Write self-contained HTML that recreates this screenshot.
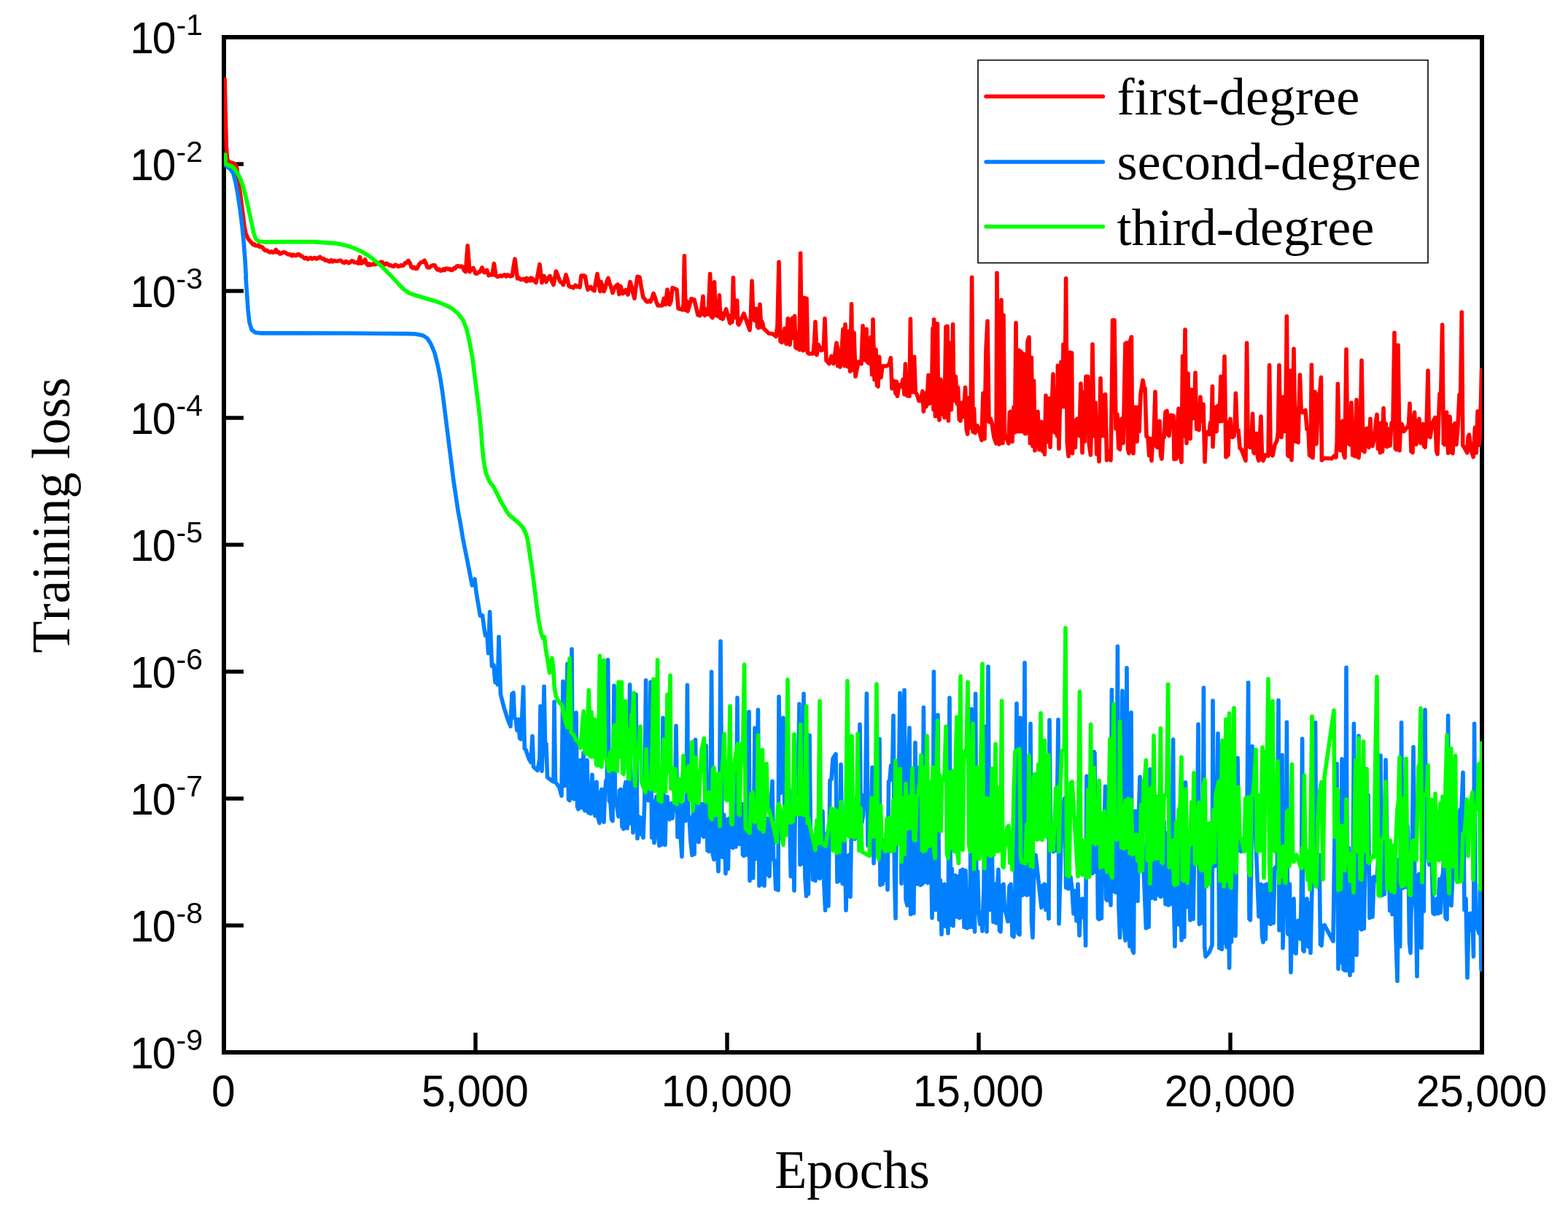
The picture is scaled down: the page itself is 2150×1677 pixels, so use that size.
<!DOCTYPE html>
<html lang="en"><head><meta charset="utf-8"><title>Training loss</title>
<style>
html,body{margin:0;padding:0;background:#fff;}
body{width:2150px;height:1677px;overflow:hidden;}
svg{display:block;}
.tk{font-family:"Liberation Sans",sans-serif;font-size:62px;fill:#000;}
.sup{font-family:"Liberation Sans",sans-serif;font-size:41px;fill:#000;}
text{font-kerning:none;font-variant-ligatures:none;}
.ax{font-family:"Liberation Serif",serif;font-size:72px;fill:#000;}
.lg{font-family:"Liberation Serif",serif;font-size:72.2px;fill:#000;}
.crv{fill:none;stroke-linejoin:round;stroke-linecap:round;}
</style></head><body>
<svg width="2150" height="1677" viewBox="0 0 2150 1677">
<rect x="0" y="0" width="2150" height="1677" fill="#fff"/>
<rect x="307.0" y="51.0" width="1725.0" height="1392.0" fill="none" stroke="#000" stroke-width="6"/>
<line x1="652.0" y1="1443.0" x2="652.0" y2="1416.0" stroke="#000" stroke-width="5.4"/>
<line x1="997.0" y1="1443.0" x2="997.0" y2="1416.0" stroke="#000" stroke-width="5.4"/>
<line x1="1342.0" y1="1443.0" x2="1342.0" y2="1416.0" stroke="#000" stroke-width="5.4"/>
<line x1="1687.0" y1="1443.0" x2="1687.0" y2="1416.0" stroke="#000" stroke-width="5.4"/>
<line x1="307.0" y1="225.0" x2="334.0" y2="225.0" stroke="#000" stroke-width="5.4"/>
<line x1="307.0" y1="399.0" x2="334.0" y2="399.0" stroke="#000" stroke-width="5.4"/>
<line x1="307.0" y1="573.0" x2="334.0" y2="573.0" stroke="#000" stroke-width="5.4"/>
<line x1="307.0" y1="747.0" x2="334.0" y2="747.0" stroke="#000" stroke-width="5.4"/>
<line x1="307.0" y1="921.0" x2="334.0" y2="921.0" stroke="#000" stroke-width="5.4"/>
<line x1="307.0" y1="1095.0" x2="334.0" y2="1095.0" stroke="#000" stroke-width="5.4"/>
<line x1="307.0" y1="1269.0" x2="334.0" y2="1269.0" stroke="#000" stroke-width="5.4"/>
<defs><clipPath id="cp"><rect x="307.0" y="51.0" width="1725.0" height="1392.0"/></clipPath></defs>
<g clip-path="url(#cp)">
<g class="crv" stroke="#ff0000" stroke-width="5.6">
<path id="pr" d="M308.2,109.0 L308.8,140.0 L309.4,166.0 L310.4,202.0 L311.6,219.0 L315.0,222.4 L320.0,223.6 L323.6,226.4 L325.0,232.0 L327.0,250.0 L330.0,270.0 L333.0,294.0 L335.0,310.0 L337.0,320.0 L340.0,327.0 L345.0,333.0 L346.8,335.3 L348.5,334.5 L350.2,336.8 L352.0,337.0 L354.0,336.2 L356.0,338.5 L358.0,338.0 L360.0,339.3 L362.0,342.0 L364.0,343.6 L366.0,343.2 L368.0,345.0 L370.0,346.0 L372.0,344.9 L374.0,346.2 L376.0,345.7 L378.4,342.5 L380.0,346.0 L382.0,345.5 L384.0,348.1 L386.0,347.4 L388.5,345.7 L391.0,346.2 L393.5,348.1 L396.0,349.0 L398.0,348.8 L400.0,350.8 L402.0,349.2 L404.0,350.4 L406.0,350.5 L408.0,348.9 L410.0,348.9 L412.0,350.8 L414.0,351.2 L416.0,353.0 L418.0,354.4 L420.0,353.3 L422.0,355.4 L424.0,354.7 L426.0,353.4 L428.0,354.9 L430.0,354.0 L432.0,353.5 L434.0,355.0 L436.0,354.0 L439.0,352.3 L442.0,355.0 L444.0,354.9 L446.0,357.0 L448.0,356.7 L450.0,358.0 L452.0,358.8 L454.0,356.8 L456.0,358.8 L458.0,357.3 L460.0,358.0 L462.5,358.2 L465.0,357.3 L467.5,357.3 L470.0,359.7 L472.0,360.4 L474.0,358.4 L476.0,359.3 L478.0,360.7 L480.0,359.7 L482.0,357.9 L484.0,358.0 L486.0,360.0 L488.0,360.0 L489.8,359.4 L491.6,361.1 L493.4,352.4 L495.2,361.1 L498.0,360.0 L500.6,355.8 L503.0,362.4 L504.8,363.6 L506.5,361.8 L508.2,363.5 L510.0,362.8 L512.0,361.9 L514.0,362.8 L516.0,362.0 L518.0,360.4 L520.0,361.9 L522.0,359.3 L524.0,359.2 L526.0,361.8 L528.0,362.7 L530.0,361.2 L532.0,362.3 L534.0,364.0 L536.0,363.7 L538.0,365.1 L540.0,365.2 L542.0,363.1 L544.0,363.9 L546.0,365.5 L548.0,365.1 L550.0,363.5 L552.0,364.4 L554.0,363.0 L556.0,360.2 L558.0,360.2 L560.0,357.4 L562.0,360.5 L564.0,366.0 L566.0,367.7 L568.0,366.4 L570.0,368.5 L572.0,368.1 L574.5,362.8 L577.0,360.0 L579.5,359.4 L582.0,357.2 L584.0,361.1 L586.0,366.4 L588.5,366.9 L591.0,365.0 L593.5,363.7 L596.0,363.6 L598.0,367.5 L600.0,370.0 L602.0,369.0 L604.0,371.3 L606.0,370.7 L607.8,369.0 L609.5,370.6 L611.2,368.3 L613.0,368.2 L614.8,369.3 L616.5,368.5 L618.2,370.5 L620.0,370.5 L622.0,367.9 L624.0,368.4 L626.0,365.1 L628.0,364.6 L630.5,365.7 L633.0,365.0 L634.8,366.7 L636.6,371.1 L638.4,372.6 L641.2,336.8 L644.0,372.6 L646.5,368.8 L649.0,367.4 L652.0,375.1 L654.0,375.2 L656.0,373.2 L658.0,373.0 L661.0,366.8 L664.0,373.6 L665.8,372.5 L667.6,370.4 L670.0,377.7 L672.5,376.4 L675.0,377.0 L677.4,361.4 L680.0,378.0 L682.0,379.4 L684.0,379.0 L686.0,377.9 L688.0,378.8 L690.0,377.6 L692.0,376.8 L694.0,379.0 L696.0,376.8 L698.0,378.0 L700.2,378.8 L702.4,378.0 L704.2,365.4 L706.0,355.2 L707.8,369.1 L709.6,382.0 L711.7,381.1 L713.9,383.4 L716.0,383.1 L718.0,382.4 L720.0,383.8 L722.0,381.4 L724.0,382.4 L726.0,382.7 L728.0,381.1 L730.0,381.8 L720.0,384.4 L722.0,385.7 L724.0,383.7 L726.0,384.8 L728.0,384.7 L730.0,383.6 L732.5,384.8 L735.0,387.5 L737.5,375.8 L740.0,362.4 L743.0,387.6 L746.0,378.4 L749.0,386.6 L751.5,381.3 L754.0,378.4 L756.5,385.5 L759.0,390.6 L762.4,372.0 L764.7,377.1 L767.0,384.0 L768.8,386.9 L770.6,387.9 L772.4,390.6 L774.2,384.2 L776.0,376.8 L778.0,383.3 L780.0,392.0 L782.0,393.5 L784.0,393.4 L786.0,394.8 L789.0,391.1 L791.0,393.2 L793.0,392.4 L795.0,393.9 L797.0,378.0 L798.8,378.9 L800.6,377.6 L802.4,379.0 L804.2,389.3 L806.0,397.2 L808.0,394.7 L810.0,393.4 L812.5,397.1 L815.0,398.6 L817.0,386.0 L819.0,375.6 L821.0,388.5 L823.0,399.6 L824.0,386.4 L826.0,392.3 L828.0,399.6 L830.0,394.6 L832.0,386.4 L834.0,381.4 L836.0,388.7 L838.0,394.0 L840.0,401.6 L842.4,395.0 L844.7,392.0 L847.0,390.1 L849.0,403.6 L851.0,392.4 L854.0,402.6 L856.0,401.0 L858.0,397.4 L861.0,404.0 L864.0,386.4 L866.0,393.0 L868.0,402.2 L870.0,409.2 L872.0,393.0 L874.0,379.3 L877.0,380.0 L879.5,395.1 L882.0,408.0 L884.0,409.8 L886.0,413.0 L888.0,413.9 L890.0,412.4 L892.0,413.7 L894.0,409.0 L896.0,402.4 L898.0,407.2 L900.0,414.2 L902.0,419.0 L908.0,419.0 L910.3,409.3 L912.7,417.5 L915.0,397.0 L918.0,417.6 L920.0,412.8 L922.0,394.6 L928.0,397.0 L930.0,423.0 L936.0,424.8 L937.2,416.5 L938.4,350.8 L939.9,425.1 L941.5,412.9 L943.0,426.6 L948.0,409.6 L952.0,411.0 L957.0,432.0 L960.0,432.7 L962.0,423.0 L964.0,406.4 L965.2,431.1 L966.4,432.6 L968.8,424.1 L971.2,431.1 L973.6,375.6 L975.3,434.1 L977.0,435.6 L978.3,424.5 L979.6,386.8 L981.1,432.1 L982.5,425.7 L984.0,433.6 L985.2,429.6 L986.4,404.8 L987.9,436.1 L989.5,429.3 L991.0,437.6 L995.6,424.0 L1001.0,443.2 L1002.5,432.6 L1003.9,441.7 L1005.4,380.8 L1006.9,434.1 L1008.4,435.6 L1010.6,412.0 L1011.8,443.7 L1013.0,445.2 L1020.0,430.0 L1028.0,452.6 L1029.5,432.2 L1031.0,385.4 L1033.0,438.1 L1035.0,439.6 L1037.0,423.4 L1038.5,448.1 L1040.0,449.6 L1042.0,417.4 L1043.7,448.5 L1045.3,441.6 L1047.0,450.0 L1054.0,457.0 L1060.0,458.0 L1064.0,461.5 L1066.0,446.8 L1068.0,359.4 L1070.0,468.1 L1072.0,469.6 L1076.0,450.4 L1078.0,471.6 L1079.2,454.5 L1080.4,436.8 L1081.7,471.1 L1083.0,472.6 L1084.5,457.5 L1086.0,436.4 L1088.0,463.6 L1089.6,433.4 L1090.8,476.1 L1092.0,477.6 L1094.0,456.4 L1096.0,479.6 L1097.6,347.4 L1099.3,479.1 L1101.0,480.6 L1103.0,408.4 L1104.4,479.6 L1106.0,409.4 L1107.5,483.5 L1109.0,485.0 L1115.0,485.0 L1116.5,469.4 L1118.0,441.4 L1120.0,486.6 L1122.0,472.4 L1126.0,480.6 L1127.7,479.1 L1129.3,479.1 L1131.0,436.8 L1133.0,494.5 L1135.0,496.0 L1137.0,498.8 L1140.0,488.4 L1143.0,497.6 L1145.0,484.6 L1147.0,470.4 L1150.0,486.0 L1140.0,494.0 L1143.0,498.6 L1145.0,487.6 L1147.0,470.4 L1148.7,501.7 L1150.3,486.8 L1152.0,503.2 L1154.0,483.6 L1156.0,451.4 L1158.0,501.6 L1159.0,444.8 L1160.5,501.1 L1162.0,502.6 L1163.6,454.4 L1165.6,509.2 L1167.6,416.8 L1168.8,506.1 L1170.0,507.6 L1171.0,456.4 L1173.0,516.2 L1177.0,496.1 L1181.0,498.9 L1183.0,446.8 L1184.3,492.1 L1185.6,493.6 L1186.8,492.1 L1188.0,451.4 L1189.2,496.1 L1190.4,497.6 L1191.6,476.4 L1193.0,498.6 L1194.0,462.4 L1195.6,513.6 L1197.0,438.0 L1199.0,520.6 L1201.0,479.4 L1202.5,528.5 L1204.0,530.0 L1205.6,489.4 L1206.8,516.1 L1208.0,517.6 L1210.0,502.0 L1215.0,502.0 L1219.0,500.0 L1221.4,490.8 L1223.0,532.6 L1226.0,522.4 L1228.0,539.6 L1229.4,523.4 L1230.4,543.2 L1233.0,527.8 L1236.0,530.2 L1238.0,520.4 L1240.0,540.6 L1241.4,499.0 L1242.7,541.1 L1244.0,542.6 L1246.0,522.4 L1247.0,543.2 L1248.4,437.4 L1249.7,536.1 L1251.0,537.6 L1252.3,530.1 L1253.6,489.4 L1255.3,538.5 L1257.0,540.0 L1260.0,549.6 L1262.4,549.6 L1265.0,536.4 L1266.4,564.2 L1268.4,539.4 L1270.0,557.6 L1271.5,540.4 L1273.0,514.4 L1274.4,553.6 L1276.0,526.4 L1277.6,539.6 L1279.0,450.4 L1280.0,561.6 L1280.6,438.0 L1282.4,570.6 L1283.6,444.0 L1285.4,444.0 L1286.7,568.3 L1288.0,576.0 L1290.0,520.4 L1291.6,567.6 L1293.0,555.4 L1295.0,572.6 L1297.0,448.0 L1299.0,447.3 L1300.4,577.0 L1302.4,470.4 L1304.4,561.6 L1306.6,444.8 L1307.8,548.1 L1309.0,549.6 L1310.4,516.4 L1312.4,553.6 L1313.6,531.4 L1315.3,575.5 L1317.0,577.0 L1319.0,552.4 L1321.0,571.6 L1322.3,550.9 L1323.6,531.4 L1325.1,588.2 L1326.6,595.2 L1327.8,549.3 L1329.0,545.4 L1331.0,586.6 L1332.6,380.4 L1334.1,592.1 L1335.5,560.0 L1337.0,593.6 L1340.0,583.8 L1342.0,588.0 L1346.0,603.6 L1348.0,539.4 L1350.0,601.6 L1352.0,480.0 L1354.0,440.4 L1356.0,578.5 L1358.0,574.0 L1360.0,580.0 L1363.0,600.0 L1366.0,608.0 L1367.0,374.4 L1368.5,601.9 L1370.0,609.2 L1371.5,587.5 L1373.0,411.4 L1375.0,607.6 L1376.0,432.4 L1377.5,596.5 L1379.0,598.0 L1383.0,608.0 L1384.3,565.9 L1385.6,564.4 L1386.8,604.1 L1388.0,605.6 L1390.0,558.4 L1391.6,592.6 L1393.0,442.8 L1394.3,590.1 L1395.6,591.6 L1397.0,480.4 L1398.4,591.6 L1400.0,482.4 L1401.6,591.6 L1403.6,485.4 L1405.6,594.7 L1407.6,594.0 L1409.0,468.0 L1411.0,462.4 L1412.4,607.6 L1414.4,490.4 L1416.0,611.6 L1417.6,522.4 L1419.0,617.6 L1421.0,565.9 L1423.0,564.4 L1425.0,616.6 L1426.5,579.9 L1428.0,578.4 L1429.5,618.6 L1430.9,579.9 L1432.4,623.0 L1434.0,542.4 L1435.2,604.1 L1436.4,605.6 L1438.4,546.4 L1440.0,613.2 L1442.0,564.0 L1444.0,513.0 L1445.5,592.1 L1447.0,593.6 L1448.0,534.4 L1449.6,597.6 L1450.4,501.4 L1452.0,615.2 L1453.5,552.8 L1455.0,496.4 L1457.0,557.6 L1458.0,472.4 L1460.0,557.6 L1461.6,381.8 L1463.3,606.9 L1465.0,625.6 L1467.0,483.3 L1469.6,484.0 L1470.4,621.6 L1471.7,585.9 L1473.0,584.4 L1474.4,613.6 L1475.7,575.9 L1477.0,574.4 L1478.5,596.1 L1480.0,597.6 L1482.0,526.0 L1484.0,620.6 L1485.6,538.4 L1487.0,605.6 L1489.0,516.4 L1491.6,516.4 L1493.0,606.0 L1495.4,624.0 L1496.7,573.6 L1498.0,472.0 L1500.0,597.6 L1502.0,552.4 L1503.7,622.6 L1505.3,576.2 L1507.0,632.6 L1509.0,518.8 L1511.0,597.6 L1512.4,542.4 L1513.6,597.6 L1515.6,540.8 L1517.6,631.0 L1520.0,618.4 L1523.0,631.2 L1524.3,550.2 L1525.6,439.0 L1528.0,439.0 L1530.0,587.6 L1532.0,568.4 L1533.8,614.7 L1535.6,616.2 L1536.8,575.9 L1538.0,574.4 L1540.0,607.6 L1541.0,571.0 L1543.0,471.0 L1545.0,470.0 L1546.5,615.5 L1548.0,621.6 L1549.0,470.0 L1551.4,462.0 L1552.7,617.4 L1554.0,621.6 L1556.0,558.4 L1557.5,604.1 L1559.0,605.6 L1560.0,558.4 L1562.0,591.6 L1564.0,540.0 L1567.0,521.4 L1570.0,537.6 L1570.0,532.4 L1572.0,598.5 L1574.0,600.0 L1575.7,624.5 L1577.3,601.5 L1579.0,631.6 L1580.5,601.5 L1582.0,600.0 L1584.0,537.4 L1585.5,612.1 L1587.0,613.6 L1588.5,578.9 L1590.0,577.4 L1591.5,624.2 L1593.0,629.2 L1594.5,601.5 L1596.0,600.0 L1598.0,564.9 L1600.0,563.4 L1601.5,596.1 L1603.0,597.6 L1605.0,569.3 L1609.0,570.0 L1610.0,629.7 L1613.0,629.0 L1614.5,581.0 L1616.0,560.4 L1618.0,623.5 L1620.0,633.6 L1621.6,488.4 L1623.0,597.6 L1625.0,452.0 L1627.0,607.6 L1629.0,512.4 L1630.5,600.1 L1632.0,601.6 L1634.0,534.4 L1636.0,573.6 L1637.5,572.1 L1639.0,511.0 L1640.7,588.1 L1642.3,562.7 L1644.0,589.6 L1646.0,544.4 L1648.0,577.6 L1650.0,554.4 L1652.0,633.2 L1653.5,593.9 L1655.0,592.4 L1658.0,595.6 L1659.5,579.5 L1660.9,594.1 L1662.4,529.8 L1663.0,612.6 L1664.5,574.8 L1666.0,558.4 L1668.0,591.6 L1670.0,556.4 L1672.0,577.6 L1674.0,516.4 L1675.0,577.6 L1677.0,576.1 L1679.0,488.8 L1681.0,626.8 L1684.0,624.0 L1685.5,579.5 L1687.0,574.4 L1688.5,597.9 L1690.0,599.4 L1692.0,598.0 L1693.2,584.3 L1694.4,539.4 L1696.2,588.5 L1698.0,590.0 L1700.0,614.5 L1702.0,616.0 L1708.0,631.6 L1709.6,470.4 L1711.2,612.1 L1712.8,597.6 L1714.4,613.6 L1716.0,601.2 L1717.6,567.4 L1718.8,620.1 L1720.0,621.6 L1721.5,600.2 L1723.0,594.4 L1724.5,627.2 L1726.0,631.6 L1727.5,599.0 L1729.0,571.0 L1730.5,627.9 L1732.0,631.6 L1735.0,623.9 L1739.0,625.1 L1740.6,500.8 L1742.1,618.5 L1743.6,620.0 L1745.0,624.9 L1748.0,610.0 L1751.0,604.0 L1752.5,592.3 L1754.0,500.8 L1755.5,598.1 L1757.0,599.6 L1759.0,544.4 L1761.0,591.6 L1762.7,584.9 L1764.4,433.8 L1765.7,624.1 L1767.0,625.6 L1769.0,508.4 L1771.0,630.6 L1772.5,573.8 L1774.0,478.4 L1776.0,605.1 L1778.0,561.1 L1780.0,606.6 L1781.2,555.0 L1782.4,514.0 L1784.2,564.1 L1786.0,565.6 L1790.0,562.4 L1792.0,588.5 L1794.0,590.0 L1795.5,624.1 L1797.0,625.6 L1798.4,500.4 L1800.0,627.6 L1801.5,588.1 L1803.0,537.4 L1805.0,608.6 L1806.5,574.5 L1808.0,540.0 L1809.7,538.5 L1811.4,517.4 L1812.4,631.1 L1816.0,628.3 L1826.0,628.7 L1830.0,624.8 L1832.0,627.2 L1833.2,605.9 L1834.4,526.4 L1836.2,616.1 L1838.0,617.6 L1839.5,581.3 L1841.0,577.4 L1842.5,623.6 L1844.0,627.6 L1846.0,479.0 L1847.7,608.1 L1849.3,608.1 L1851.0,609.6 L1853.0,552.4 L1854.7,624.1 L1856.3,593.9 L1858.0,625.6 L1860.0,548.4 L1861.5,626.0 L1863.0,627.6 L1865.0,602.1 L1867.0,494.4 L1869.0,618.1 L1871.0,619.6 L1872.5,588.9 L1874.0,587.4 L1875.5,612.1 L1877.0,613.6 L1879.0,574.4 L1880.5,610.1 L1882.0,611.6 L1885.0,598.0 L1886.5,579.2 L1888.0,568.4 L1889.5,615.5 L1890.9,581.7 L1892.4,620.6 L1893.9,579.7 L1895.5,619.1 L1897.0,559.8 L1898.7,611.1 L1900.3,580.7 L1902.0,612.6 L1904.0,588.2 L1906.0,611.1 L1908.0,580.0 L1910.0,578.5 L1912.0,456.4 L1913.2,615.1 L1914.4,616.6 L1915.7,586.7 L1917.0,473.4 L1919.0,617.6 L1920.5,582.9 L1922.0,581.4 L1925.0,591.6 L1930.0,585.0 L1931.5,583.5 L1933.0,553.4 L1935.0,619.1 L1937.0,620.6 L1938.3,576.8 L1939.6,565.4 L1940.8,607.7 L1942.0,609.2 L1944.0,578.9 L1946.0,574.4 L1948.0,607.6 L1949.5,585.3 L1951.0,581.4 L1952.5,611.7 L1954.0,613.2 L1956.0,586.1 L1958.0,508.4 L1959.5,598.1 L1961.0,599.6 L1964.0,580.0 L1968.0,572.4 L1969.5,617.6 L1971.0,622.6 L1972.5,579.6 L1974.0,540.0 L1975.8,538.5 L1977.6,445.4 L1979.3,608.1 L1981.0,609.6 L1982.3,576.9 L1983.6,565.4 L1985.6,621.2 L1986.8,584.7 L1988.0,571.4 L1990.0,620.1 L1992.0,621.6 L1993.5,583.2 L1995.0,580.4 L1997.0,609.6 L1999.0,584.5 L2001.1,541.0 L2002.7,539.5 L2004.3,428.0 L2005.8,611.1 L2007.3,612.6 L2011.8,620.9 L2013.2,598.2 L2014.5,596.2 L2016.3,614.3 L2020.2,626.6 L2022.5,586.3 L2024.3,620.9 L2026.1,564.0 L2027.9,610.2 L2029.7,592.1 L2031.5,507.0"/>
</g>
<g class="crv" stroke="#0080ff" stroke-width="5.6">
<path id="pb" d="M308.4,226.0 L312.0,229.0 L316.0,232.0 L320.0,238.0 L323.0,250.0 L326.0,266.0 L329.0,286.0 L332.0,310.0 L334.0,330.0 L336.0,356.0 L337.4,380.0 L337.0,380.0 L338.4,400.0 L340.0,424.0 L342.0,442.0 L345.0,452.0 L350.0,456.0 L358.0,456.9 L400.0,456.9 L480.0,457.0 L560.0,457.6 L570.0,458.0 L580.0,460.0 L586.0,464.0 L591.0,472.0 L596.0,484.0 L600.0,500.0 L604.0,520.0 L607.0,540.0 L610.0,564.0 L613.0,588.0 L616.0,612.0 L619.0,636.0 L622.0,660.0 L625.0,680.0 L628.0,700.0 L628.0,700.0 L631.0,716.0 L635.0,740.0 L639.0,760.0 L643.0,780.0 L646.0,796.0 L647.4,802.6 L651.0,794.0 L653.0,812.0 L656.0,830.0 L658.4,844.2 L661.6,843.8 L663.6,860.0 L665.6,871.4 L668.0,870.6 L669.6,895.6 L671.6,839.0 L674.4,913.1 L677.0,911.9 L679.0,935.6 L681.0,918.4 L682.4,938.6 L684.0,873.4 L686.4,952.0 L691.0,970.0 L696.0,986.0 L700.0,996.0 L702.0,951.5 L704.0,950.0 L705.5,984.5 L707.0,986.0 L709.0,1001.6 L711.0,986.4 L712.5,1012.1 L714.0,1013.6 L715.8,981.7 L717.6,942.0 L719.3,1026.5 L721.0,1028.0 L725.0,1040.0 L728.0,1045.3 L730.0,1009.4 L731.5,1051.5 L733.0,1053.0 L737.0,1056.5 L740.0,1040.0 L741.0,968.4 L743.0,1057.2 L744.5,1020.1 L746.0,941.4 L747.5,1018.5 L749.0,1020.0 L750.5,1065.5 L752.0,1067.0 L756.0,1070.0 L759.0,1071.7 L760.0,962.4 L761.5,1072.5 L763.0,1074.0 L767.0,1080.0 L770.0,1091.2 L772.0,934.4 L773.2,1076.1 L774.4,1077.6 L776.2,1044.5 L778.0,910.4 L779.5,1096.1 L781.0,1097.6 L782.5,1066.7 L784.0,890.0 L785.5,1094.1 L787.0,1095.6 L788.5,1069.0 L790.0,977.4 L791.5,1106.1 L793.0,1109.6 L794.5,1078.2 L796.0,1042.4 L798.0,1107.6 L800.0,1032.4 L802.0,1111.6 L803.5,1075.3 L805.0,1042.4 L806.7,1114.1 L808.3,1075.1 L810.0,1115.6 L812.0,1062.4 L814.0,1108.7 L816.0,1118.6 L818.0,1072.4 L820.0,1121.3 L822.0,1128.6 L823.5,1088.0 L825.0,1082.4 L826.5,1121.5 L828.0,1127.2 L829.5,1086.4 L831.0,1070.0 L832.3,1068.5 L833.6,904.8 L835.3,1098.5 L837.0,1100.0 L838.5,1123.4 L840.0,1125.6 L842.0,940.4 L843.5,1098.5 L845.0,1100.0 L848.0,1119.6 L849.5,1083.9 L851.0,1082.4 L853.0,1133.1 L855.0,1136.6 L856.5,1080.6 L858.0,1072.4 L860.0,1135.6 L861.8,1083.7 L863.6,938.8 L865.1,1129.3 L866.5,1085.0 L868.0,1141.6 L870.0,1100.3 L872.0,952.4 L874.0,1149.6 L875.5,1121.9 L877.0,1120.4 L878.7,1143.9 L880.3,1121.9 L882.0,1148.6 L883.8,1099.4 L885.6,932.8 L887.3,1096.1 L889.0,1097.6 L890.5,1084.1 L892.0,935.4 L893.7,1148.6 L895.3,1098.5 L897.0,1155.6 L898.5,1101.9 L900.0,1092.4 L902.0,1142.5 L904.0,1159.6 L905.7,1096.4 L907.3,1158.1 L909.0,984.4 L910.5,1156.7 L912.0,1158.6 L913.5,1099.6 L915.0,1092.4 L916.5,1122.1 L918.0,1123.6 L920.0,1101.5 L922.0,1122.1 L924.0,1100.0 L925.5,1098.5 L927.0,995.4 L929.0,1147.6 L930.5,1103.9 L932.0,1102.4 L933.5,1152.6 L935.0,1174.6 L936.5,1104.7 L938.0,1102.4 L940.0,1125.6 L941.2,1104.1 L942.4,939.4 L943.7,1118.5 L945.0,1120.0 L947.0,1154.3 L949.0,1172.6 L950.5,1112.4 L952.1,1171.1 L953.6,1014.4 L955.1,1153.1 L956.5,1106.9 L958.0,1154.6 L960.0,1103.9 L962.0,1102.4 L963.5,1146.1 L965.0,1147.6 L966.5,1120.6 L968.0,1022.4 L970.0,1166.1 L972.0,1167.6 L973.8,1121.8 L975.6,921.4 L977.3,1171.6 L979.0,1178.6 L980.5,1123.9 L982.0,1122.4 L983.5,1164.7 L985.0,1194.6 L986.5,1126.5 L988.0,879.4 L990.3,1175.3 L992.7,1117.2 L995.0,1197.6 L996.7,1123.9 L998.3,1191.4 L1000.0,1122.4 L1001.7,1161.1 L1003.3,1123.9 L1005.0,1162.6 L1007.0,1123.2 L1009.0,1161.1 L1011.0,956.8 L1012.5,1156.1 L1014.0,1157.6 L1015.5,1129.4 L1017.0,1102.4 L1018.5,1172.1 L1020.0,1173.6 L1022.3,1125.4 L1024.7,1172.1 L1027.0,976.0 L1028.0,1207.6 L1030.3,1121.2 L1032.7,1203.9 L1035.0,998.4 L1037.0,1177.6 L1038.2,1091.1 L1039.4,973.4 L1041.0,1214.6 L1042.5,1143.9 L1044.0,1142.4 L1046.0,1213.1 L1048.0,1214.6 L1050.0,1123.9 L1052.0,1122.4 L1053.5,1200.1 L1055.0,1201.6 L1057.0,1104.1 L1059.0,1071.4 L1060.5,1178.5 L1062.0,1180.0 L1063.7,1219.1 L1065.3,1181.5 L1067.0,1220.6 L1068.0,955.4 L1070.0,1087.6 L1072.0,1077.3 L1074.0,984.4 L1076.0,1122.1 L1078.0,1123.6 L1080.0,1083.9 L1082.0,1082.4 L1084.3,1201.6 L1086.7,1105.7 L1089.0,1221.2 L1090.5,1091.5 L1092.0,1090.0 L1094.0,1088.5 L1096.0,965.4 L1097.0,1185.6 L1098.7,1118.1 L1100.3,1184.1 L1102.0,951.4 L1103.8,1200.8 L1105.6,1228.6 L1107.1,1097.2 L1108.5,1225.7 L1110.0,1008.4 L1111.5,1148.5 L1113.0,1150.0 L1114.7,1206.1 L1116.3,1151.5 L1118.0,1207.6 L1119.5,1133.9 L1121.0,1132.4 L1122.5,1203.1 L1124.0,1204.6 L1126.0,1113.9 L1128.0,1112.4 L1129.8,1209.5 L1131.6,1248.2 L1133.7,1143.1 L1135.9,1242.2 L1138.0,1070.0 L1140.0,1068.5 L1142.0,1040.0 L1146.0,1034.0 L1148.0,1209.2 L1149.7,1117.6 L1151.3,1207.7 L1153.0,1048.4 L1155.3,1211.8 L1157.7,1134.3 L1160.0,1248.2 L1162.0,1173.9 L1164.0,1172.4 L1166.0,1229.6 L1167.5,1133.9 L1169.0,1132.4 L1172.0,1150.6 L1174.3,1093.0 L1176.7,1149.1 L1179.0,993.4 L1180.5,1126.1 L1182.0,1127.6 L1183.5,1117.9 L1185.0,1090.0 L1186.7,1088.5 L1188.4,951.0 L1190.0,1159.6 L1192.0,1139.4 L1194.0,1158.1 L1196.0,1052.4 L1198.0,1183.6 L1199.5,1131.5 L1201.0,1130.0 L1202.7,1069.2 L1204.3,1128.5 L1206.0,1013.4 L1207.0,1213.6 L1208.7,1153.9 L1210.3,1212.1 L1212.0,1152.4 L1213.7,1206.4 L1215.3,1153.9 L1217.0,1220.0 L1218.5,1071.5 L1220.0,1070.0 L1221.7,1049.3 L1223.3,1068.5 L1225.0,981.4 L1226.5,1200.2 L1228.0,1259.2 L1229.5,1091.5 L1231.0,1090.0 L1232.5,1071.6 L1234.0,950.4 L1236.0,1211.6 L1238.0,1069.3 L1240.0,946.4 L1242.0,1233.2 L1244.0,1241.6 L1245.5,1045.7 L1247.0,998.0 L1248.6,1253.6 L1250.7,1062.8 L1252.9,1252.1 L1255.0,1018.4 L1257.3,1212.1 L1259.7,1052.8 L1262.0,1213.6 L1263.5,1118.2 L1264.9,1212.1 L1266.4,970.0 L1268.3,1209.1 L1270.1,1118.7 L1272.0,1210.6 L1274.0,1133.9 L1276.0,1132.4 L1278.0,1258.6 L1279.2,1191.5 L1280.4,921.0 L1281.7,1246.1 L1283.0,1247.6 L1284.5,1197.8 L1286.0,980.4 L1287.7,1261.0 L1289.3,1207.1 L1291.0,1281.2 L1293.0,1213.9 L1295.0,1212.4 L1296.7,1270.5 L1298.3,1213.9 L1300.0,1279.6 L1302.0,956.8 L1303.7,1268.1 L1305.3,1191.2 L1307.0,1269.6 L1308.5,1212.2 L1310.0,1200.4 L1311.9,1257.1 L1313.7,1201.9 L1315.6,1258.6 L1317.1,1193.9 L1318.5,1257.1 L1320.0,1192.4 L1322.0,1271.1 L1324.0,1193.9 L1326.0,1272.6 L1328.0,1220.2 L1330.0,1271.1 L1332.0,972.4 L1333.5,1271.2 L1335.1,1191.6 L1336.6,1277.6 L1337.6,951.4 L1339.1,1248.5 L1340.5,1194.7 L1342.0,1250.0 L1343.7,1267.3 L1345.3,1251.5 L1347.0,1276.6 L1349.0,1216.1 L1351.0,996.4 L1353.0,1277.6 L1355.0,914.0 L1357.0,1247.6 L1358.5,1206.6 L1360.0,1152.4 L1362.0,1264.1 L1364.0,1212.6 L1366.0,1265.6 L1367.5,1215.2 L1369.0,1192.4 L1370.5,1276.1 L1372.0,1277.6 L1374.0,1213.9 L1376.0,1212.4 L1377.5,1248.5 L1379.0,1250.0 L1382.0,1263.6 L1384.0,1215.3 L1386.0,1212.4 L1388.0,1283.1 L1390.0,1284.6 L1392.0,1218.6 L1394.0,964.8 L1396.0,1280.1 L1398.0,1281.6 L1399.0,984.4 L1400.5,1226.1 L1402.0,1227.6 L1403.5,1219.3 L1405.0,908.8 L1406.5,1226.1 L1408.0,1227.6 L1409.7,1210.5 L1411.3,1226.1 L1413.0,992.4 L1414.5,1263.9 L1416.0,1285.6 L1418.0,1186.0 L1420.0,1172.4 L1428.0,1244.6 L1430.0,1213.9 L1432.0,1212.4 L1434.0,1247.5 L1436.0,1213.9 L1438.0,1259.6 L1439.0,987.4 L1440.7,1166.1 L1442.3,1166.1 L1444.0,1167.6 L1446.3,1166.1 L1448.7,1166.1 L1451.0,986.8 L1452.0,1266.6 L1454.0,1194.6 L1456.0,1110.0 L1460.0,1094.4 L1461.7,1217.1 L1463.3,1187.8 L1465.0,1218.6 L1468.0,1202.4 L1470.0,1220.0 L1472.0,1252.8 L1474.0,1221.5 L1476.0,1262.6 L1478.0,1212.4 L1480.0,1282.6 L1482.0,1233.9 L1484.0,1232.4 L1485.5,1257.9 L1487.1,1233.9 L1488.6,1296.6 L1490.0,1064.4 L1491.7,1168.5 L1493.3,1160.3 L1495.0,1170.0 L1496.5,1196.1 L1498.0,1197.6 L1500.0,1030.7 L1501.0,1032.4 L1502.0,1195.6 L1504.0,1092.4 L1505.5,1259.1 L1507.0,1260.6 L1508.7,1171.1 L1510.3,1259.1 L1512.0,1150.0 L1513.8,1148.5 L1515.6,1078.4 L1516.8,1233.1 L1518.0,1234.6 L1519.5,1153.9 L1521.0,1152.4 L1523.0,1241.2 L1524.4,945.8 L1526.3,1222.1 L1528.1,1091.7 L1530.0,1223.6 L1531.2,1125.2 L1532.4,886.4 L1534.0,1244.4 L1535.6,1285.6 L1537.3,1117.6 L1539.0,947.4 L1541.0,1266.5 L1543.0,1289.6 L1545.0,915.8 L1547.0,1256.7 L1549.0,1297.6 L1551.0,977.0 L1552.7,1302.2 L1554.4,1306.6 L1555.7,1134.5 L1557.0,1112.4 L1558.5,1234.1 L1560.0,1235.6 L1561.5,1112.6 L1563.0,1065.4 L1571.4,1272.6 L1573.3,1113.5 L1575.1,1271.1 L1577.0,1054.8 L1579.3,1231.1 L1581.7,1150.7 L1584.0,1232.6 L1586.0,1140.7 L1588.0,1132.4 L1589.8,1228.1 L1591.6,1229.6 L1593.1,1146.9 L1594.5,1228.1 L1596.0,1126.4 L1598.0,1239.7 L1600.0,1142.6 L1602.0,1241.2 L1604.2,1119.9 L1606.4,1239.7 L1608.6,1014.0 L1609.8,1250.8 L1611.0,1297.6 L1612.5,1128.9 L1614.0,1127.4 L1616.0,1267.6 L1618.0,1138.5 L1620.0,1289.2 L1621.9,1148.4 L1623.7,1285.0 L1625.6,1072.8 L1626.8,1242.1 L1628.0,1243.6 L1630.0,1172.4 L1632.0,1261.6 L1634.0,1151.5 L1636.0,1260.1 L1638.0,1150.0 L1639.7,1148.5 L1641.3,1148.5 L1643.0,993.0 L1644.4,1267.2 L1646.4,1169.8 L1648.4,1265.7 L1650.4,943.0 L1651.7,1298.0 L1653.0,1311.6 L1658.0,1306.0 L1662.0,1296.0 L1663.0,960.8 L1664.5,1186.1 L1666.0,1187.6 L1668.0,1183.2 L1670.0,1005.8 L1671.8,1300.1 L1673.6,1157.1 L1675.4,1301.6 L1676.9,1203.9 L1678.5,1293.0 L1680.0,1202.4 L1681.9,1298.7 L1683.7,1203.9 L1685.6,1327.2 L1687.1,1173.9 L1688.5,1291.5 L1690.0,1172.4 L1692.0,1281.7 L1694.0,1283.2 L1695.5,1171.7 L1697.0,1039.4 L1698.7,1166.1 L1700.3,1158.4 L1702.0,1167.6 L1704.0,1154.6 L1706.0,1166.1 L1708.0,1130.0 L1709.8,1128.5 L1711.6,936.0 L1713.0,1260.1 L1714.4,1261.6 L1715.7,1188.7 L1717.0,1023.4 L1726.0,1256.6 L1727.5,1213.9 L1729.0,1212.4 L1730.5,1283.9 L1732.0,1292.0 L1733.7,1213.9 L1735.3,1287.7 L1737.0,1212.4 L1738.7,1265.7 L1740.3,1213.9 L1742.0,1267.2 L1744.0,1207.6 L1746.0,1265.7 L1748.0,1190.0 L1749.7,1188.5 L1751.3,1188.5 L1753.0,960.4 L1754.0,1275.6 L1756.0,1224.1 L1758.0,1035.4 L1759.0,1300.0 L1760.5,1231.5 L1762.0,1230.0 L1763.2,1228.5 L1764.4,990.4 L1765.7,1280.1 L1767.0,1281.6 L1768.4,1212.4 L1770.0,1333.2 L1772.0,1233.9 L1774.0,1232.4 L1775.5,1306.1 L1777.0,1307.6 L1778.5,1263.9 L1780.0,1262.4 L1781.5,1286.1 L1783.0,1287.6 L1784.3,1228.4 L1785.6,1013.0 L1786.8,1303.1 L1788.0,1304.6 L1790.0,1233.9 L1792.0,1232.4 L1793.7,1298.3 L1795.3,1238.2 L1797.0,1306.6 L1798.5,1234.6 L1800.0,1190.0 L1801.8,1188.5 L1803.6,990.8 L1804.8,1214.1 L1806.0,1215.6 L1807.5,1214.1 L1809.0,1172.4 L1810.5,1295.1 L1812.0,1296.6 L1814.0,1269.9 L1816.0,1268.4 L1828.0,1290.6 L1830.0,1150.0 L1831.5,1148.5 L1833.0,1047.4 L1835.0,1328.6 L1836.7,1151.4 L1838.3,1319.9 L1840.0,1040.8 L1842.0,1329.1 L1844.0,1330.6 L1846.0,915.4 L1847.7,1330.9 L1849.3,1162.3 L1851.0,1337.2 L1852.8,1184.4 L1854.6,1331.2 L1856.4,992.4 L1858.2,1288.3 L1860.0,1309.6 L1861.5,1150.4 L1863.0,1009.0 L1865.0,1273.1 L1867.0,1274.6 L1868.7,1171.5 L1870.3,1273.1 L1872.0,1170.0 L1874.0,1165.6 L1876.0,1090.4 L1878.0,1258.6 L1880.0,1203.9 L1882.0,1257.1 L1884.0,1202.4 L1888.0,1207.6 L1889.7,1178.6 L1891.3,1206.1 L1893.0,1036.0 L1895.0,1227.6 L1896.7,1161.3 L1898.3,1226.1 L1900.0,1042.0 L1902.0,1168.5 L1904.0,1170.0 L1905.7,1248.6 L1907.3,1179.7 L1909.0,1253.6 L1910.5,1195.5 L1912.0,1192.4 L1914.0,1285.5 L1916.0,1345.2 L1917.9,1178.6 L1919.7,1298.0 L1921.6,990.8 L1922.8,1216.1 L1924.0,1217.6 L1926.0,1175.9 L1928.0,1216.1 L1930.0,1132.4 L1931.0,1170.0 L1932.5,1291.0 L1934.0,1306.6 L1936.0,1184.3 L1938.0,1024.4 L1940.0,1230.0 L1941.5,1249.4 L1943.0,1338.6 L1944.5,1199.9 L1946.0,1198.4 L1947.5,1273.1 L1949.0,1299.6 L1950.7,1162.5 L1952.3,1249.6 L1954.0,973.4 L1955.5,1168.5 L1957.0,1170.0 L1960.0,1185.6 L1963.0,1172.4 L1965.0,1252.1 L1967.0,1253.6 L1970.0,1232.4 L1972.0,1252.6 L1973.7,1205.5 L1975.3,1251.1 L1977.0,1204.0 L1978.5,1197.9 L1980.0,1172.4 L1982.0,1258.3 L1984.0,1260.6 L1985.6,981.4 L1987.1,1240.1 L1988.5,1189.2 L1990.0,1241.6 L1992.0,1198.2 L1994.0,1192.4 L2000.0,1207.6 L2002.0,1110.0 L2004.0,1108.5 L2006.0,1059.4 L2008.0,1247.6 L2010.0,1232.4 L2012.0,1340.6 L2014.0,1253.9 L2016.0,1252.4 L2017.5,1275.7 L2018.9,1253.9 L2020.4,1311.6 L2021.6,992.4 L2023.3,1268.5 L2025.0,1270.0 L2028.0,1279.6 L2029.6,1212.4 L2031.0,1329.6 L2032.0,1230.0"/>
</g>
<g class="crv" stroke="#00ff00" stroke-width="5.6">
<path id="pg" d="M309.0,212.0 L309.0,224.0 L312.0,226.0 L318.0,228.0 L322.0,232.0 L326.0,238.0 L330.0,246.0 L334.0,258.0 L338.0,274.0 L342.0,292.0 L345.0,306.0 L348.0,320.0 L351.0,328.0 L355.0,331.0 L364.0,331.9 L400.0,331.6 L430.0,331.6 L444.0,332.6 L460.0,333.6 L474.0,336.4 L486.0,340.4 L496.0,345.0 L506.0,351.0 L515.0,358.0 L524.0,366.0 L532.0,374.0 L538.0,380.0 L546.0,389.0 L554.0,397.0 L562.0,402.4 L570.0,405.0 L580.0,408.0 L590.0,411.0 L600.0,414.0 L610.0,418.0 L620.0,423.0 L628.0,430.0 L635.0,439.0 L640.0,452.0 L644.0,470.0 L648.0,492.0 L651.0,516.0 L654.0,540.0 L657.0,564.0 L659.4,588.0 L661.0,610.0 L663.0,630.0 L666.0,648.0 L671.0,660.0 L677.0,668.0 L682.0,678.0 L687.0,688.0 L693.0,698.0 L694.0,700.0 L698.0,706.0 L704.0,711.0 L710.0,716.0 L716.0,722.0 L720.0,729.0 L723.0,738.0 L725.0,750.0 L727.0,764.0 L729.6,780.0 L731.6,796.0 L733.6,812.0 L735.6,828.0 L737.6,844.0 L739.6,856.0 L742.0,868.0 L744.4,874.8 L746.4,873.2 L748.0,888.0 L750.0,900.0 L752.0,912.0 L753.6,922.6 L757.0,902.4 L759.0,920.0 L760.0,940.0 L762.0,954.0 L766.0,962.0 L771.0,968.0 L773.0,980.0 L775.0,988.0 L778.0,997.6 L779.0,960.0 L781.0,903.0 L782.4,960.0 L783.0,1004.0 L787.0,1008.0 L790.0,1015.0 L794.0,1018.0 L796.0,1025.6 L800.0,975.4 L802.0,1032.1 L804.0,1033.6 L805.7,987.6 L807.4,946.4 L808.7,1036.1 L810.0,1037.6 L811.0,976.4 L813.0,1037.6 L814.5,993.5 L816.0,986.4 L817.5,1048.1 L819.0,1049.6 L820.7,1018.6 L822.4,899.4 L823.7,1050.1 L825.0,1051.6 L826.5,1000.5 L828.0,905.4 L829.5,1038.5 L831.0,1040.0 L835.0,1057.6 L836.5,1031.9 L838.0,1030.4 L840.0,1055.6 L841.5,996.4 L843.0,994.4 L844.5,1056.1 L846.0,1057.6 L848.0,935.4 L850.0,1037.6 L851.2,997.6 L852.4,935.4 L853.7,1060.1 L855.0,1061.6 L856.3,1024.6 L857.6,961.4 L858.8,998.5 L860.0,1000.0 L861.5,1067.1 L863.0,1068.6 L864.5,1036.4 L866.0,980.0 L867.5,978.5 L869.0,950.0 L871.0,1077.6 L872.5,1041.5 L874.0,1040.0 L876.0,1023.0 L878.0,996.0 L879.5,1071.1 L881.0,1076.0 L885.0,1086.6 L886.0,1027.4 L887.5,1078.5 L889.0,1080.0 L892.4,1082.1 L894.2,1036.4 L896.0,931.4 L898.0,1084.6 L899.8,1049.2 L901.6,904.8 L902.8,1096.5 L904.0,1098.0 L907.0,1099.4 L908.5,1048.0 L910.0,1014.4 L911.2,1084.1 L912.4,1085.6 L913.7,1048.4 L915.0,952.4 L917.0,1057.6 L919.0,926.0 L920.0,1081.6 L921.5,1054.9 L923.0,1053.4 L924.7,1100.6 L926.3,1054.9 L928.0,1102.6 L930.0,1069.9 L932.0,1068.4 L933.5,1098.1 L935.0,1099.6 L937.0,1036.4 L938.5,1084.1 L940.0,1085.6 L942.0,1055.8 L944.0,1050.4 L945.5,1096.1 L947.0,1097.6 L949.0,1017.4 L950.0,1111.6 L952.0,1052.9 L954.0,1038.4 L956.0,1100.1 L958.0,1101.6 L960.0,1065.1 L962.0,1028.0 L965.4,1012.4 L966.7,1098.1 L968.0,1099.6 L972.0,1086.4 L974.0,1120.8 L976.0,1123.6 L977.5,1053.9 L979.0,1052.4 L980.5,1116.1 L982.0,1117.6 L983.5,1061.9 L985.0,1060.4 L987.0,1132.6 L988.5,1061.5 L990.0,1060.0 L991.5,1041.1 L993.0,1006.4 L995.0,1096.1 L997.0,1097.6 L999.0,1072.0 L1001.0,968.4 L1002.5,1129.1 L1004.0,1130.6 L1006.0,1059.5 L1008.0,1040.0 L1011.6,1020.0 L1012.8,1116.1 L1014.0,1117.6 L1015.5,1052.1 L1017.0,1020.0 L1018.8,1018.5 L1020.6,911.4 L1022.3,1136.5 L1024.0,1138.0 L1028.0,1142.2 L1030.0,1087.9 L1032.0,1086.4 L1033.5,1126.1 L1035.0,1127.6 L1036.5,1104.0 L1037.9,1126.1 L1039.4,1008.4 L1040.7,1135.1 L1042.0,1136.6 L1043.7,1082.3 L1045.4,1028.4 L1047.0,1140.6 L1049.0,1114.7 L1051.0,1047.4 L1052.5,1108.5 L1054.0,1110.0 L1058.0,1124.0 L1062.0,1140.0 L1065.0,1155.6 L1066.5,1106.2 L1068.0,1102.4 L1070.0,1110.0 L1072.0,1142.1 L1074.0,1158.6 L1076.0,1105.6 L1078.0,1145.1 L1080.0,932.0 L1082.0,1128.0 L1084.0,1128.0 L1085.7,1110.5 L1087.3,1126.5 L1089.0,1006.8 L1091.0,1116.1 L1093.0,1117.6 L1094.5,1116.1 L1096.1,1116.1 L1097.6,993.4 L1099.1,1116.1 L1100.5,1113.9 L1102.0,1117.6 L1103.8,1105.5 L1105.6,968.4 L1107.1,1128.5 L1108.5,1122.2 L1110.0,1130.0 L1118.0,1165.6 L1120.0,1124.8 L1122.0,1156.7 L1124.0,961.4 L1125.5,1152.7 L1127.0,1156.0 L1132.0,1160.2 L1140.0,1108.4 L1142.3,1166.2 L1144.7,1109.9 L1147.0,1169.6 L1149.0,1112.1 L1151.0,1168.1 L1153.0,1099.4 L1154.7,1151.1 L1156.3,1148.4 L1158.0,1152.6 L1160.0,1100.7 L1162.0,933.8 L1163.5,1146.1 L1165.0,1147.6 L1166.5,1110.1 L1168.0,1009.4 L1169.5,1147.1 L1171.0,1148.6 L1172.7,1099.2 L1174.3,1147.1 L1176.0,1006.4 L1178.0,1166.5 L1180.0,1108.1 L1182.0,1168.0 L1192.0,1173.6 L1193.5,1127.0 L1195.0,1094.4 L1196.5,1146.1 L1198.0,1147.6 L1200.0,1127.6 L1202.0,938.0 L1203.5,1172.8 L1205.0,1178.6 L1206.3,1117.2 L1207.6,1104.4 L1208.8,1158.5 L1210.0,1160.0 L1214.0,1167.6 L1215.9,1122.9 L1217.7,1166.1 L1219.6,1121.4 L1221.3,1166.1 L1223.0,1167.6 L1224.7,1097.0 L1226.3,1166.1 L1228.0,1042.8 L1229.5,1156.1 L1231.0,1157.6 L1232.5,1110.1 L1234.0,1054.4 L1236.0,1181.6 L1238.0,1094.8 L1240.0,1171.5 L1242.0,1074.4 L1243.5,1135.1 L1245.0,1136.6 L1247.0,1092.1 L1249.0,1135.1 L1251.0,1053.4 L1253.0,1151.1 L1255.0,1152.6 L1257.0,1091.5 L1259.0,1090.0 L1261.0,1072.7 L1263.0,1035.4 L1264.5,1166.1 L1266.0,1167.6 L1267.7,1052.5 L1269.3,1166.1 L1271.0,1009.0 L1273.0,1160.6 L1275.0,1072.9 L1277.0,1159.1 L1279.0,1052.4 L1280.5,1161.9 L1282.0,1176.6 L1283.8,1078.2 L1285.6,988.4 L1287.1,1138.1 L1288.5,1062.7 L1290.0,1139.6 L1291.5,1071.5 L1293.0,1070.0 L1295.0,1062.7 L1297.0,996.4 L1298.5,1171.9 L1300.0,1176.6 L1302.3,1058.9 L1304.7,1163.2 L1307.0,1057.4 L1309.0,1167.6 L1310.5,1034.5 L1312.0,983.4 L1313.2,1171.6 L1314.4,1183.6 L1315.7,1069.5 L1317.0,927.4 L1318.5,1164.1 L1320.0,1165.6 L1321.5,1043.1 L1323.0,1030.0 L1325.0,1028.5 L1327.0,935.4 L1328.5,1156.5 L1330.0,1167.6 L1332.0,1054.5 L1334.0,992.4 L1335.6,1191.6 L1337.1,1053.9 L1338.5,1177.0 L1340.0,1052.4 L1341.5,1176.1 L1343.0,1177.6 L1345.0,1032.4 L1347.0,910.4 L1348.5,1164.7 L1350.0,1190.6 L1351.5,1109.9 L1353.0,1094.4 L1354.7,1172.1 L1356.3,1095.9 L1358.0,1173.6 L1360.3,1053.9 L1362.7,1172.1 L1365.0,1020.4 L1366.5,1166.1 L1368.0,1167.6 L1369.9,1080.8 L1371.7,1166.1 L1373.6,961.0 L1374.8,1188.1 L1376.0,1189.6 L1377.5,1159.5 L1379.0,1158.0 L1381.0,1133.9 L1383.0,1132.4 L1384.7,1183.2 L1386.3,1142.0 L1388.0,1192.6 L1390.0,1089.0 L1392.0,1030.0 L1398.0,1027.2 L1399.5,1174.8 L1401.0,1182.0 L1406.0,1184.1 L1407.7,1130.5 L1409.3,1179.7 L1411.0,1036.0 L1412.7,1187.1 L1414.3,1127.4 L1416.0,1188.6 L1417.5,1066.4 L1419.0,1061.4 L1420.5,1150.1 L1422.0,1151.6 L1423.7,1048.1 L1425.3,1150.1 L1427.0,978.0 L1429.0,1151.6 L1430.7,1078.3 L1432.4,1015.4 L1433.7,1146.1 L1435.0,1147.6 L1436.5,1057.7 L1438.0,1035.4 L1440.0,1166.6 L1442.0,1131.5 L1444.0,1165.1 L1446.0,1130.0 L1447.7,1080.9 L1449.3,1128.5 L1451.0,1079.4 L1452.0,1167.6 L1454.0,1075.9 L1456.0,1030.0 L1457.7,1028.5 L1459.3,1028.5 L1461.0,861.0 L1462.7,1200.1 L1464.3,1091.5 L1466.0,1201.6 L1468.0,1073.5 L1470.0,1072.0 L1478.0,1201.6 L1479.2,1078.3 L1480.4,948.4 L1482.2,1193.0 L1484.0,1199.6 L1485.5,1153.9 L1487.0,1152.4 L1488.5,1193.8 L1490.0,1203.6 L1491.9,1082.8 L1493.7,1202.1 L1495.6,993.4 L1496.8,1154.1 L1498.0,1155.6 L1500.0,1052.4 L1502.0,1157.6 L1503.7,1121.3 L1505.3,1156.1 L1507.0,1070.4 L1509.0,1189.6 L1510.7,1116.2 L1512.3,1188.1 L1514.0,1112.4 L1516.0,1185.1 L1518.0,1195.6 L1520.0,1121.0 L1522.0,1013.4 L1523.5,1199.3 L1525.0,1203.6 L1527.0,965.4 L1529.0,1150.1 L1531.0,1151.6 L1532.5,1122.0 L1534.1,1150.1 L1535.6,989.4 L1537.4,1162.1 L1539.2,1106.0 L1541.0,1163.6 L1543.0,1097.9 L1545.0,1162.1 L1547.0,1095.4 L1549.0,1170.1 L1551.0,1096.9 L1553.0,1171.6 L1554.7,1145.9 L1556.3,1170.1 L1558.0,1144.4 L1559.7,1180.1 L1561.3,1145.9 L1563.0,1194.6 L1564.7,1103.9 L1566.3,1193.1 L1568.0,1070.0 L1569.7,1068.5 L1571.4,1042.4 L1573.3,1179.8 L1575.1,1082.5 L1577.0,1211.6 L1578.7,1080.4 L1580.3,1179.0 L1582.0,1008.8 L1584.0,1176.1 L1586.0,1177.6 L1587.8,1091.7 L1589.6,1176.1 L1591.4,998.8 L1592.7,1182.1 L1594.0,1183.6 L1596.0,1091.5 L1598.0,1090.0 L1599.8,1088.5 L1601.6,938.4 L1603.0,1189.6 L1604.7,1153.9 L1606.3,1188.1 L1608.0,1152.4 L1609.5,1212.1 L1611.0,1213.6 L1612.7,1127.1 L1614.3,1212.1 L1616.0,1110.0 L1618.0,1108.5 L1620.0,1038.4 L1621.5,1206.1 L1623.0,1207.6 L1624.5,1106.1 L1626.0,1082.4 L1628.0,1210.6 L1630.0,1159.5 L1632.0,1158.0 L1633.7,1099.9 L1635.3,1156.5 L1637.0,1059.8 L1638.5,1184.1 L1640.0,1185.6 L1642.0,1113.3 L1644.0,1100.4 L1646.0,1192.1 L1648.0,1193.6 L1650.0,1078.3 L1652.0,1068.8 L1654.0,1215.6 L1656.0,1129.9 L1658.0,1212.2 L1660.0,1128.4 L1662.0,1183.6 L1663.7,1110.6 L1665.3,1182.1 L1667.0,1090.0 L1671.0,1071.4 L1673.0,1207.6 L1674.5,1084.4 L1676.0,1015.4 L1678.0,1215.6 L1679.5,1096.8 L1681.0,986.4 L1683.0,1207.6 L1684.3,1109.0 L1685.6,978.0 L1686.8,1216.1 L1688.0,1217.6 L1690.0,1099.7 L1692.0,970.8 L1693.5,1190.3 L1695.0,1196.6 L1696.5,1109.7 L1698.0,1079.4 L1700.0,1148.5 L1702.0,1150.0 L1706.0,1167.6 L1707.7,1094.9 L1709.3,1166.1 L1711.0,1093.4 L1712.5,1195.2 L1714.0,1200.6 L1716.0,1091.5 L1718.0,1090.0 L1720.0,1068.7 L1722.0,1028.0 L1723.5,1166.1 L1725.0,1167.6 L1727.0,1090.4 L1729.0,1166.1 L1731.0,1024.8 L1733.0,1203.6 L1734.5,1092.1 L1736.0,1030.0 L1737.5,1028.5 L1739.0,931.0 L1740.5,1184.4 L1742.0,1220.6 L1743.5,1088.3 L1745.0,961.4 L1746.5,1166.1 L1748.0,1167.6 L1750.0,1113.8 L1752.0,1044.0 L1754.0,1210.6 L1756.0,1161.9 L1758.0,1201.7 L1760.0,1160.4 L1761.5,1209.1 L1763.0,1210.6 L1764.5,1112.9 L1766.0,1111.4 L1768.0,1187.6 L1769.7,1154.2 L1771.4,1048.0 L1772.7,1180.1 L1774.0,1181.6 L1778.0,1172.4 L1784.0,1190.6 L1785.5,1162.2 L1786.9,1189.1 L1788.4,1063.4 L1789.7,1164.5 L1791.0,1166.0 L1792.7,1206.6 L1794.3,1167.5 L1796.0,1219.6 L1797.5,1099.0 L1799.0,982.4 L1800.5,1200.1 L1802.0,1210.0 L1805.0,1215.6 L1807.0,1126.2 L1809.0,1090.0 L1812.0,1072.4 L1814.0,1205.6 L1816.0,1066.0 L1829.0,974.0 L1830.0,1147.6 L1832.0,1086.8 L1834.0,1082.4 L1835.0,1220.6 L1836.7,1133.9 L1838.3,1219.1 L1840.0,1132.4 L1842.0,1192.1 L1844.0,1193.6 L1846.0,1096.0 L1847.5,1168.5 L1849.0,1170.0 L1851.3,1208.2 L1853.7,1171.5 L1856.0,1223.6 L1857.5,1115.2 L1859.0,1042.4 L1861.0,1167.6 L1863.0,1012.4 L1865.0,1205.1 L1867.0,1206.6 L1868.3,1119.6 L1869.6,1016.8 L1870.8,1166.1 L1872.0,1167.6 L1874.0,1054.4 L1875.5,1182.1 L1877.0,1183.6 L1881.0,1174.6 L1884.0,1175.4 L1886.0,1030.0 L1888.0,928.0 L1890.0,1227.1 L1892.0,1228.6 L1894.0,1151.5 L1896.0,1150.0 L1898.0,1145.0 L1900.0,1072.0 L1902.0,1219.6 L1904.0,1153.9 L1906.0,1152.4 L1908.0,1222.1 L1910.0,1159.2 L1912.0,1223.6 L1914.0,1152.5 L1916.0,1110.0 L1917.5,1099.5 L1919.0,1038.4 L1920.5,1209.7 L1922.0,1215.6 L1924.0,1094.7 L1926.0,1214.1 L1928.0,1040.4 L1929.5,1168.5 L1931.0,1170.0 L1932.5,1226.1 L1934.0,1227.6 L1936.0,1153.9 L1938.0,1152.4 L1940.0,1178.1 L1942.0,1179.6 L1943.5,1114.5 L1945.0,1050.0 L1946.5,1048.5 L1948.0,971.4 L1950.0,1209.6 L1951.5,1093.9 L1953.0,1090.0 L1954.7,1088.5 L1956.3,1088.5 L1958.0,1049.4 L1959.0,1180.6 L1961.0,1099.7 L1963.0,1096.4 L1965.0,1193.0 L1967.0,1225.6 L1968.0,1088.4 L1969.7,1178.1 L1971.3,1113.5 L1973.0,1179.6 L1974.7,1101.9 L1976.3,1178.1 L1978.0,1092.4 L1980.0,1187.6 L1982.0,1079.8 L1984.0,1008.4 L1985.5,1194.4 L1987.0,1224.6 L1988.3,1104.6 L1989.6,1026.4 L1991.3,1186.1 L1993.0,1187.6 L1994.3,1113.7 L1995.6,1036.4 L1996.8,1203.2 L1998.0,1209.4 L2004.0,1208.0 L2006.0,1143.5 L2008.0,1142.0 L2009.7,1125.3 L2011.4,1096.4 L2013.0,1173.6 L2014.5,1121.5 L2016.0,1120.0 L2017.5,1096.7 L2019.0,1086.4 L2020.0,1206.6 L2022.0,1111.5 L2024.0,1110.0 L2026.0,1096.2 L2028.0,1047.4 L2030.0,1219.6 L2031.6,1019.0"/>
</g>
</g>
<text class="tk" transform="translate(306.4,1517.3) scale(0.946,1)" text-anchor="middle">0</text>
<text class="tk" transform="translate(651.4,1517.3) scale(0.946,1)" text-anchor="middle">5,000</text>
<text class="tk" transform="translate(996.4,1517.3) scale(0.946,1)" text-anchor="middle">10,000</text>
<text class="tk" transform="translate(1341.4,1517.3) scale(0.946,1)" text-anchor="middle">15,000</text>
<text class="tk" transform="translate(1686.4,1517.3) scale(0.946,1)" text-anchor="middle">20,000</text>
<text class="tk" transform="translate(2031.4,1517.3) scale(0.946,1)" text-anchor="middle">25,000</text>
<text class="tk" transform="translate(176.3,73.0) scale(0.946,1)" x="2 34.2">10</text>
<text class="sup" x="241.5" y="47.9">-1</text>
<text class="tk" transform="translate(176.3,247.0) scale(0.946,1)" x="2 34.2">10</text>
<text class="sup" x="241.5" y="221.9">-2</text>
<text class="tk" transform="translate(176.3,421.0) scale(0.946,1)" x="2 34.2">10</text>
<text class="sup" x="241.5" y="395.9">-3</text>
<text class="tk" transform="translate(176.3,595.0) scale(0.946,1)" x="2 34.2">10</text>
<text class="sup" x="241.5" y="569.9">-4</text>
<text class="tk" transform="translate(176.3,769.0) scale(0.946,1)" x="2 34.2">10</text>
<text class="sup" x="241.5" y="743.9">-5</text>
<text class="tk" transform="translate(176.3,943.0) scale(0.946,1)" x="2 34.2">10</text>
<text class="sup" x="241.5" y="917.9">-6</text>
<text class="tk" transform="translate(176.3,1117.0) scale(0.946,1)" x="2 34.2">10</text>
<text class="sup" x="241.5" y="1091.9">-7</text>
<text class="tk" transform="translate(176.3,1291.0) scale(0.946,1)" x="2 34.2">10</text>
<text class="sup" x="241.5" y="1265.9">-8</text>
<text class="tk" transform="translate(176.3,1465.0) scale(0.946,1)" x="2 34.2">10</text>
<text class="sup" x="241.5" y="1439.9">-9</text>
<text class="ax" transform="translate(1168.6,1629) scale(1.004,1.02)" text-anchor="middle">Epochs</text>
<text class="ax" transform="translate(94.6,706.5) rotate(-90) scale(1.0,1.035)" text-anchor="middle">Training loss</text>
<rect x="1341" y="82.5" width="617" height="278" fill="#fff" stroke="#000" stroke-width="1.6"/>
<line x1="1352" y1="132.3" x2="1512.5" y2="132.3" stroke="#ff0000" stroke-width="5.4" stroke-linecap="round"/>
<text class="lg" x="1531.5" y="157.2">first-degree</text>
<line x1="1352" y1="222" x2="1512.5" y2="222" stroke="#0080ff" stroke-width="5.4" stroke-linecap="round"/>
<text class="lg" x="1531.5" y="246.2">second-degree</text>
<line x1="1352" y1="310.8" x2="1512.5" y2="310.8" stroke="#00ff00" stroke-width="5.4" stroke-linecap="round"/>
<text class="lg" x="1531.5" y="335.8">third-degree</text>
</svg></body></html>
